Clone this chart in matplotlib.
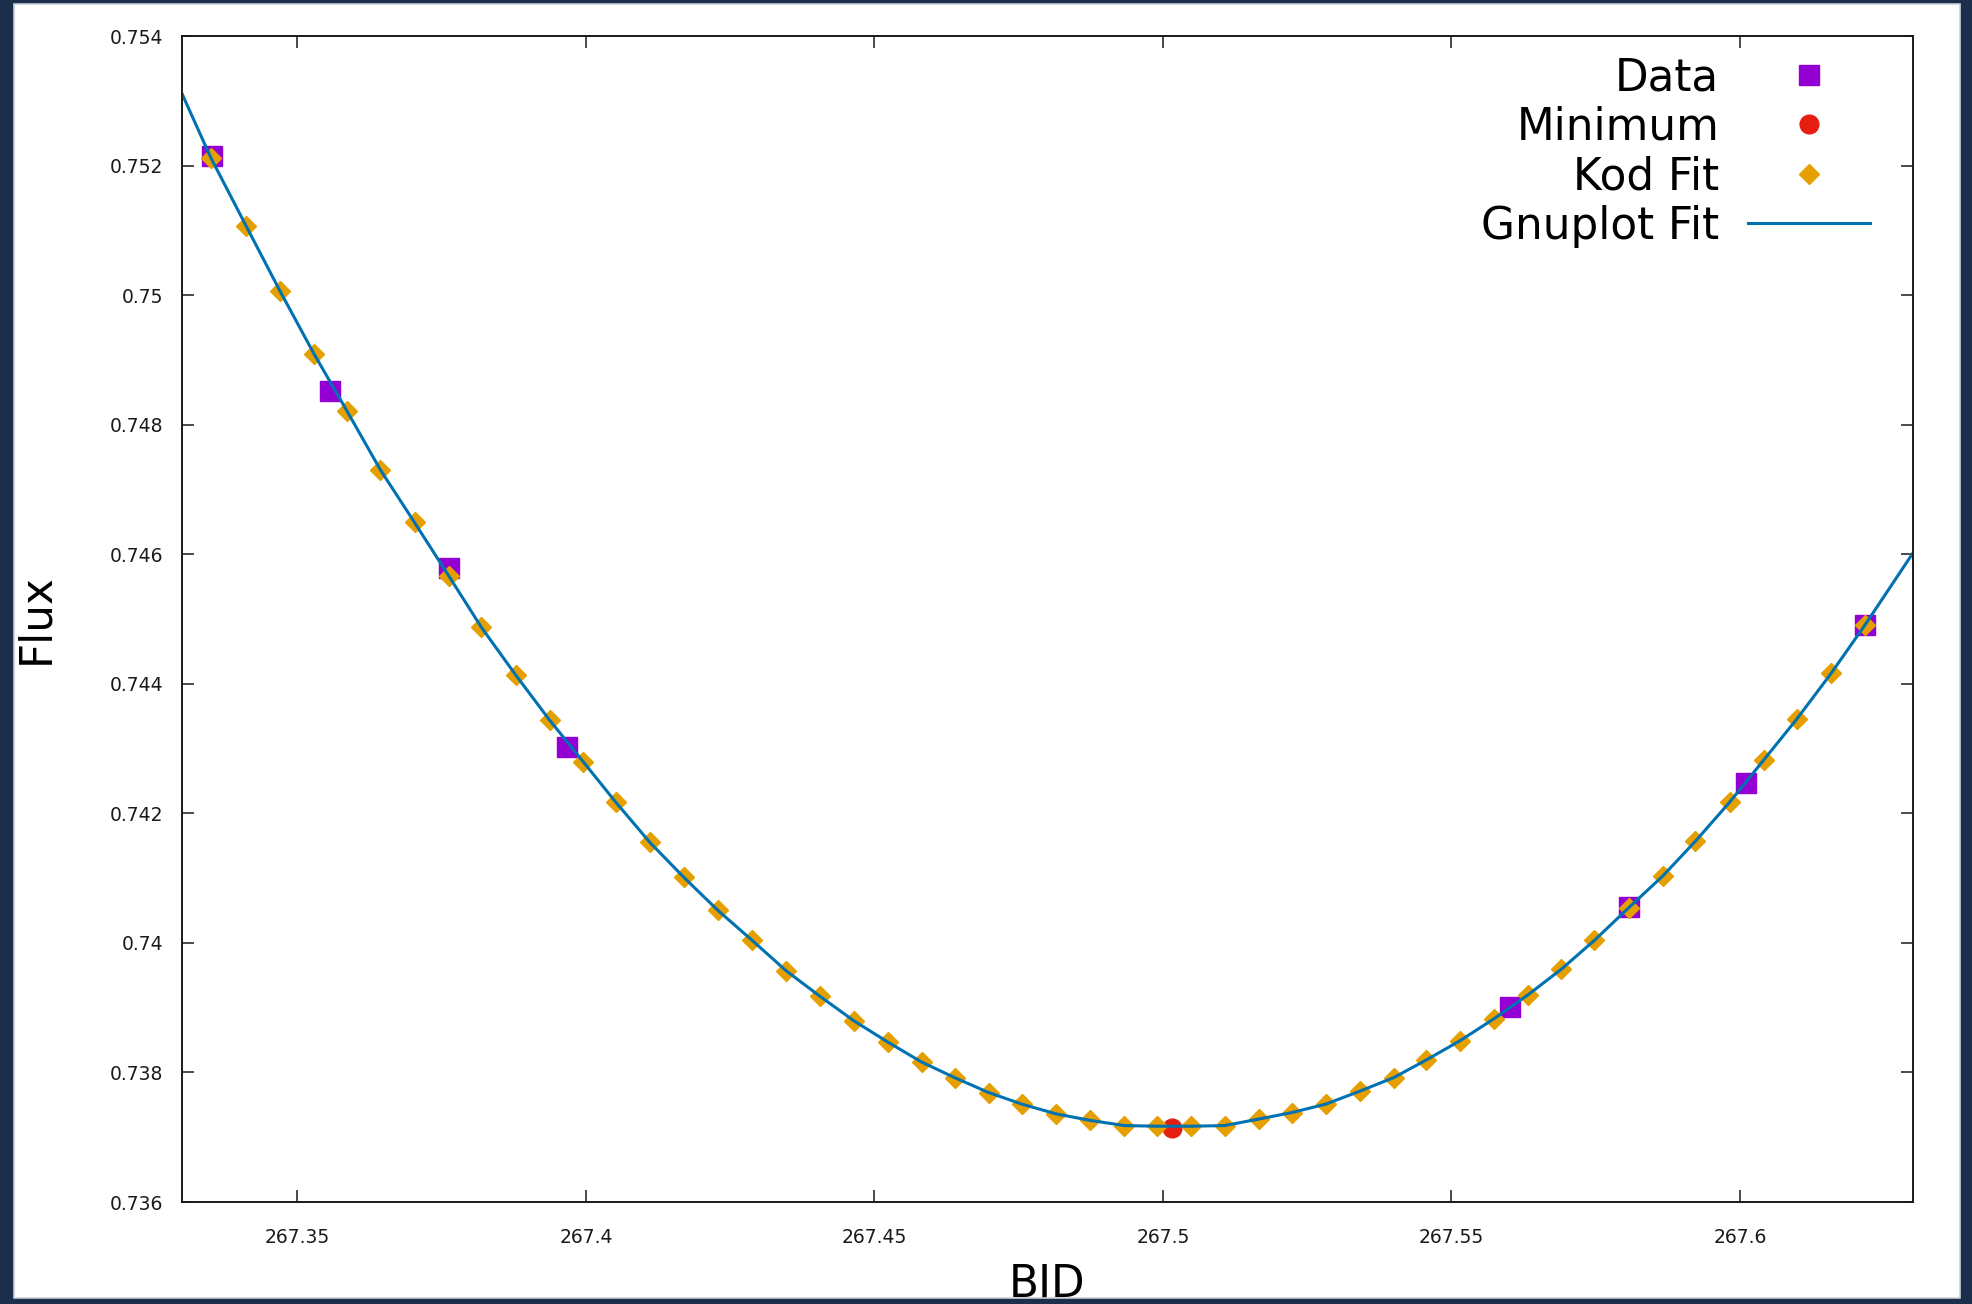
import matplotlib.pyplot as plt
from matplotlib.patches import Rectangle
from matplotlib.ticker import FuncFormatter, MultipleLocator

# measured light curve points
bjd_obs = [267.3352, 267.3557, 267.3762, 267.3967, 267.5602, 267.5807, 267.6010, 267.6217]
flux_obs = [0.75214, 0.74852, 0.74579, 0.74303, 0.73901, 0.74056, 0.74247, 0.74491]

# time of minimum
bjd_min = [267.5016]
flux_min = [0.73715]

# fitted points from our own code
bjd_kod = [267.3350, 267.3411, 267.3470, 267.3529, 267.3586, 267.3644, 267.3703, 267.3762,
           267.3819, 267.3878, 267.3937, 267.3995, 267.4052, 267.4111, 267.4170, 267.4229,
           267.4288, 267.4347, 267.4405, 267.4464, 267.4523, 267.4582, 267.4639, 267.4698,
           267.4756, 267.4815, 267.4874, 267.4933, 267.4990, 267.5049, 267.5107, 267.5166,
           267.5223, 267.5282, 267.5341, 267.5400, 267.5456, 267.5515, 267.5574, 267.5633,
           267.5690, 267.5748, 267.5807, 267.5866, 267.5923, 267.5982, 267.6041, 267.6099,
           267.6158, 267.6217]
flux_kod = [0.75212, 0.75107, 0.75006, 0.74909, 0.74821, 0.74730, 0.74649, 0.74567,
            0.74487, 0.74414, 0.74344, 0.74280, 0.74217, 0.74155, 0.74101, 0.74050,
            0.74004, 0.73957, 0.73918, 0.73880, 0.73847, 0.73816, 0.73792, 0.73769,
            0.73751, 0.73736, 0.73726, 0.73718, 0.73717, 0.73717, 0.73718, 0.73728,
            0.73738, 0.73751, 0.73771, 0.73792, 0.73819, 0.73849, 0.73883, 0.73920,
            0.73959, 0.74004, 0.74054, 0.74103, 0.74157, 0.74217, 0.74282, 0.74346,
            0.74416, 0.74491]

# gnuplot fit curve, sampled across the whole x range
bjd_gp = [267.3300] + bjd_kod + [267.6300]
flux_gp = [0.75311] + flux_kod + [0.74602]

W, H = 1972, 1304
fig = plt.figure(figsize=(W / 100, H / 100), dpi=100)
fig.patch.set_facecolor('white')

ax = fig.add_axes([182 / W, 1 - 1202 / H, 1731 / W, 1166 / H])

ax.plot(bjd_obs, flux_obs, 's', color='#9400d3', markersize=15, label='Data')
ax.plot(bjd_min, flux_min, 'o', color='#e51e10', markersize=13.5, label='Minimum')
ax.plot(bjd_kod, flux_kod, 'D', color='#e69f00', markersize=10, label='Kod Fit')
ax.plot(bjd_gp, flux_gp, '-', color='#0072b2', linewidth=2.2, label='Gnuplot Fit')

ax.set_xlim(267.33, 267.63)
ax.set_ylim(0.736, 0.754)
ax.xaxis.set_major_locator(MultipleLocator(0.05))
ax.yaxis.set_major_locator(MultipleLocator(0.002))
fmt = FuncFormatter(lambda v, p: '%g' % round(v, 6))
ax.xaxis.set_major_formatter(fmt)
ax.yaxis.set_major_formatter(fmt)

ax.tick_params(direction='in', length=8.6, width=1.1, top=True, right=True,
               labelsize=13.5, colors='#1a1a1a')
ax.tick_params(axis='y', pad=13.5)
ax.tick_params(axis='x', pad=18.5)
for s in ax.spines.values():
    s.set_linewidth(1.4)
    s.set_color('#1a1a1a')

ax.set_xlabel('BJD', fontsize=31.5)
ax.set_ylabel('Flux', fontsize=31.5)
ax.xaxis.set_label_coords(0.5, -0.052)
ax.yaxis.set_label_coords(-0.072, 0.5)

ax.legend(loc='upper right', bbox_to_anchor=(0.9752, 0.9828), markerfirst=False,
          frameon=False, fontsize=31.5, handlelength=2.79, handletextpad=0.66,
          labelspacing=0.15, borderpad=0, borderaxespad=0)

# dark window border around the plot
frame = '#1b2e4b'
for x0, y0, w, h in [(0, 0, 14, H), (1960, 0, W - 1960, H), (0, 0, W, 4), (0, 1298, W, H - 1298)]:
    fig.patches.append(Rectangle((x0 / W, 1 - (y0 + h) / H), w / W, h / H,
                                 transform=fig.transFigure, facecolor=frame,
                                 edgecolor='none', zorder=10))
fig.patches.append(Rectangle((14 / W, 1 - 1298 / H), 1946 / W, 1294 / H,
                             transform=fig.transFigure, facecolor='none',
                             edgecolor='#c9ced6', linewidth=1.2, zorder=11))

fig.savefig('out.png', dpi=100)
